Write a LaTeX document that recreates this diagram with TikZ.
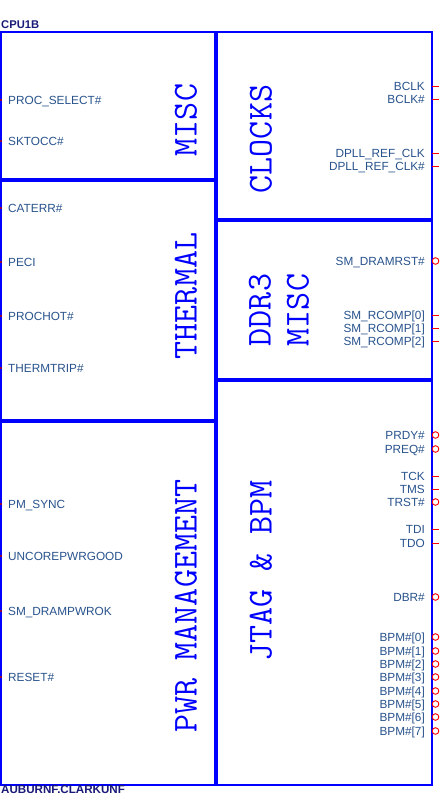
\documentclass[tikz,border=0pt]{standalone}
\usepackage{fontspec}
\setmainfont{Liberation Sans}
\usepackage{tikz}
\usetikzlibrary{positioning,calc}
\usepackage{xcolor}
\definecolor{symblue}{RGB}{0,0,255}
\definecolor{pintext}{RGB}{40,82,140}
\definecolor{reftext}{RGB}{25,25,120}
\definecolor{stubred}{RGB}{140,0,70}

\begin{document}
\begin{tikzpicture}[x=1pt,y=-1pt,
  thinedge/.style={draw=symblue, line width=1.4pt},
  thickedge/.style={draw=symblue, line width=3.6pt},
  pinlabel/.style={text=pintext, font=\fontsize{11.8}{13}\selectfont, inner sep=0pt, text height=8.5pt, text depth=0pt},
  seclabel/.style={text=symblue, font=\ttfamily\fontsize{35}{38}\selectfont, rotate=90, inner sep=0pt, align=center},
  refdes/.style={text=reftext, font=\bfseries\fontsize{11.2}{12}\selectfont, inner sep=0pt, anchor=west},
  pinline/.style={draw=red, line width=1pt},
  pinbubble/.style={draw=red, line width=0.9pt},
  stubline/.style={draw=stubred, line width=1.2pt}]
  \useasboundingbox (0,0) rectangle (439,795);
  % symbol outline
  \draw[thinedge] (1,32) rectangle (216,785);
  \draw[thinedge] (216,32) rectangle (432,785);
  \draw[thickedge] (1,180) -- (216,180);
  \draw[thickedge] (1,421) -- (216,421);
  \draw[thickedge] (216,220) -- (432,220);
  \draw[thickedge] (216,380) -- (432,380);
  \draw[thickedge] (216,31) -- (216,786);
  % reference names
  \node[refdes] (cpuref) at (1,25) {CPU1B};
  \node[refdes, font=\bfseries\fontsize{11.6}{12}\selectfont] (partname) at (1,789.5) {AUBURNF.CLARKUNF};
  % block names
  \node[seclabel] (misc) at (186,120) {MISC};
  \node[seclabel] (thermal) at (186,296) {THERMAL};
  \node[seclabel] (pwrmgmt) at (186,606) {PWR MANAGEMENT};
  \node[seclabel] (clocks) at (261,139) {CLOCKS};
  \node[seclabel] (ddrmisc) at (279,310) {DDR3\\MISC};
  \node[seclabel] (jtag) at (261,571) {JTAG \& BPM};
  % left pins
  \foreach \y/\lab [count=\i] in {100/PROC\_SELECT\#, 141/SKTOCC\#, 208/CATERR\#, 262/PECI,
      316/PROCHOT\#, 368/THERMTRIP\#, 504/PM\_SYNC, 556/UNCOREPWRGOOD,
      611/SM\_DRAMPWROK, 677/RESET\#} {
    \node[pinlabel, anchor=west] (lp\i) at (8,\y) {\lab};
    \coordinate (ls\i) at (0,\y);
    \draw[stubline] (ls\i) -- ++(2,0);
  }
  % right pins
  \foreach \y/\lab [count=\i] in {86/BCLK, 99/BCLK\#, 153/DPLL\_REF\_CLK, 166/DPLL\_REF\_CLK\#,
      261/SM\_DRAMRST\#, 315/SM\_RCOMP[0], 328/SM\_RCOMP[1], 341/SM\_RCOMP[2],
      435/PRDY\#, 449/PREQ\#, 476/TCK, 489/TMS, 502/TRST\#, 529/TDI, 543/TDO,
      597/DBR\#, 637/BPM\#[0], 651/BPM\#[1], 664/BPM\#[2], 677/BPM\#[3],
      691/BPM\#[4], 704/BPM\#[5], 717/BPM\#[6], 731/BPM\#[7]} {
    \node[pinlabel, anchor=east] (rp\i) at (425,\y) {\lab};
    \coordinate (rs\i) at (432,\y);
  }
  \foreach \i in {1,2,3,4,6,7,8,11,12,14,15} {
    \draw[pinline] (rs\i) -- ++(7,0);
  }
  \foreach \i in {5,9,10,13,16,17,18,19,20,21,22,23,24} {
    \draw[pinbubble] ($(rs\i)+(3.5,0)$) circle (3.3pt);
  }
\end{tikzpicture}
\end{document}
